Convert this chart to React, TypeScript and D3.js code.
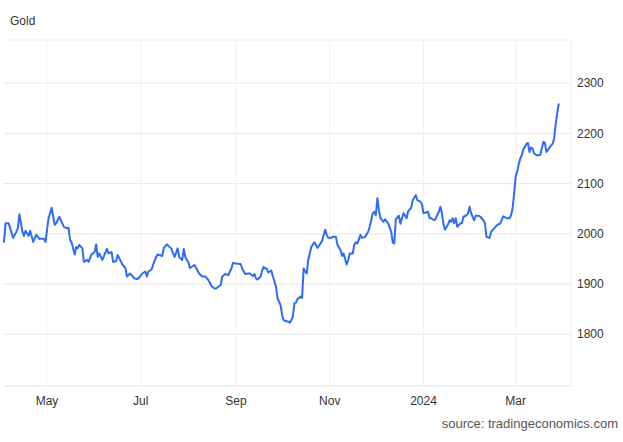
import React from "react";
import * as d3 from "d3";

const title = "Gold";
const source = "source: tradingeconomics.com";
const yTicks = [1800, 1900, 2000, 2100, 2200, 2300];

const dates: string[] = [
  // Apr 2023
  "2023-04-03","2023-04-04","2023-04-06","2023-04-09","2023-04-11","2023-04-12","2023-04-13","2023-04-15","2023-04-16","2023-04-17","2023-04-19","2023-04-20","2023-04-22","2023-04-24","2023-04-26","2023-04-29","2023-04-30",
  // May
  "2023-05-02","2023-05-04","2023-05-06","2023-05-07","2023-05-09","2023-05-10","2023-05-12","2023-05-14","2023-05-15","2023-05-16","2023-05-17","2023-05-19","2023-05-20","2023-05-21","2023-05-22","2023-05-24","2023-05-25","2023-05-27","2023-05-28","2023-05-30",
  // Jun
  "2023-06-01","2023-06-02","2023-06-03","2023-06-04","2023-06-06","2023-06-09","2023-06-10","2023-06-12","2023-06-13","2023-06-15","2023-06-16","2023-06-17","2023-06-19","2023-06-21","2023-06-22","2023-06-24","2023-06-25","2023-06-27","2023-06-29","2023-06-30",
  // Jul
  "2023-07-02","2023-07-04","2023-07-05","2023-07-06","2023-07-08","2023-07-09","2023-07-11","2023-07-12","2023-07-15","2023-07-16","2023-07-18","2023-07-19","2023-07-21","2023-07-22","2023-07-23","2023-07-25","2023-07-26","2023-07-28","2023-07-29","2023-07-30",
  // Aug
  "2023-08-01","2023-08-02","2023-08-03","2023-08-05","2023-08-08","2023-08-10","2023-08-12","2023-08-14","2023-08-16","2023-08-18","2023-08-19","2023-08-22","2023-08-23","2023-08-25","2023-08-27","2023-08-29","2023-08-30",
  // Sep
  "2023-09-01","2023-09-04","2023-09-05","2023-09-07","2023-09-09","2023-09-10","2023-09-12","2023-09-13","2023-09-14","2023-09-15","2023-09-17","2023-09-18","2023-09-19","2023-09-20","2023-09-21","2023-09-22","2023-09-24","2023-09-25","2023-09-27","2023-09-28","2023-09-30",
  // Oct
  "2023-10-01","2023-10-02","2023-10-05","2023-10-06","2023-10-08","2023-10-09","2023-10-10","2023-10-11","2023-10-13","2023-10-14","2023-10-15","2023-10-16","2023-10-17","2023-10-18","2023-10-20","2023-10-22","2023-10-23","2023-10-24","2023-10-26","2023-10-27","2023-10-29","2023-10-30","2023-10-31",
  // Nov
  "2023-11-02","2023-11-03","2023-11-05","2023-11-06","2023-11-08","2023-11-09","2023-11-10","2023-11-11","2023-11-12","2023-11-13","2023-11-14","2023-11-16","2023-11-17","2023-11-18","2023-11-19","2023-11-21","2023-11-22","2023-11-24","2023-11-26","2023-11-27","2023-11-29","2023-11-30",
  // Dec
  "2023-12-01","2023-12-02","2023-12-03","2023-12-04","2023-12-06","2023-12-07","2023-12-09","2023-12-11","2023-12-12","2023-12-13","2023-12-14","2023-12-16","2023-12-17","2023-12-18","2023-12-19","2023-12-21","2023-12-22","2023-12-24","2023-12-25","2023-12-27","2023-12-28","2023-12-30","2023-12-31",
  // Jan 2024
  "2024-01-01","2024-01-03","2024-01-04","2024-01-05","2024-01-06","2024-01-08","2024-01-09","2024-01-11","2024-01-12","2024-01-13","2024-01-14","2024-01-15","2024-01-17","2024-01-18","2024-01-19","2024-01-20","2024-01-21","2024-01-22","2024-01-23","2024-01-25","2024-01-26","2024-01-27","2024-01-29","2024-01-30","2024-01-31",
  // Feb
  "2024-02-01","2024-02-03","2024-02-04","2024-02-06","2024-02-07","2024-02-09","2024-02-10","2024-02-11","2024-02-13","2024-02-14","2024-02-16","2024-02-18","2024-02-19","2024-02-20","2024-02-22","2024-02-24","2024-02-26","2024-02-27","2024-02-28","2024-02-29",
  // Mar
  "2024-03-01","2024-03-02","2024-03-03","2024-03-04","2024-03-05","2024-03-06","2024-03-08","2024-03-09","2024-03-10","2024-03-11","2024-03-12","2024-03-13","2024-03-15","2024-03-16","2024-03-17","2024-03-19","2024-03-20","2024-03-21","2024-03-22","2024-03-23","2024-03-25","2024-03-26","2024-03-27","2024-03-28","2024-03-29",
];

const prices: number[] = [
  // Apr 2023
  1984,2021,2021,1992,2004,2011,2039,2004,1996,2006,1996,2006,1984,1998,1990,1990,1984,
  // May
  2031,2052,2018,2021,2034,2027,2014,2011,2012,1988,1983,1959,1974,1971,1978,1971,1944,1948,1944,1959,
  // Jun
  1964,1979,1954,1961,1948,1970,1961,1964,1944,1946,1958,1952,1939,1932,1915,1921,1918,1911,1910,1913,
  // Jul
  1921,1925,1915,1925,1929,1938,1954,1959,1956,1972,1979,1976,1970,1961,1954,1971,1954,1948,1970,1954,
  // Aug
  1943,1932,1934,1938,1921,1915,1915,1908,1896,1891,1891,1898,1915,1920,1918,1931,1942,
  // Sep
  1941,1940,1931,1920,1921,1921,1916,1920,1911,1909,1915,1927,1934,1931,1931,1923,1927,1915,1895,1872,1858,
  // Oct
  1838,1828,1825,1823,1835,1862,1863,1870,1875,1872,1931,1925,1921,1948,1974,1983,1978,1972,1981,1986,2008,1998,1992,
  // Nov
  1992,1994,1994,1978,1968,1956,1961,1950,1939,1948,1961,1961,1979,1983,1981,1998,1992,1994,2004,2014,2041,2044,
  // Dec
  2037,2071,2047,2031,2024,2029,2021,2004,1983,1981,2029,2036,2020,2031,2041,2031,2045,2052,2067,2077,2067,2064,2059,
  // Jan 2024
  2041,2043,2044,2031,2031,2027,2031,2044,2054,2041,2019,2008,2019,2027,2024,2031,2021,2031,2014,2021,2021,2034,2037,2041,2054,
  // Feb
  2041,2027,2036,2036,2034,2027,2021,1994,1992,2004,2011,2018,2019,2021,2035,2031,2031,2037,2051,2081,
  // Mar
  2114,2124,2139,2150,2157,2168,2179,2181,2163,2172,2170,2160,2156,2157,2157,2183,2181,2163,2167,2172,2179,2190,2217,2240,2258,
];

const xStart = "2023-04-03";
const xEnd = "2024-04-06";
const yMin = 1697;
const yMax = 2386;

const W = 623;
const H = 442;
const L = 4;
const R = 571;
const T = 40;
const B = 386;
const FONT = "'Liberation Sans', Arial, Helvetica, sans-serif";

export default function App() {
  const parse = d3.timeParse("%Y-%m-%d");
  const data = dates.map((d, i) => ({ date: parse(d) as Date, value: prices[i] }));

  const x = d3.scaleTime().domain([parse(xStart) as Date, parse(xEnd) as Date]).range([L, R]);
  const y = d3.scaleLinear().domain([yMin, yMax]).range([B, T]);

  const xTicks = x.ticks(d3.timeMonth.every(2) as d3.TimeInterval);
  const fmt = (d: Date) => (d.getMonth() === 0 ? d3.timeFormat("%Y")(d) : d3.timeFormat("%b")(d));

  const line = d3
    .line<{ date: Date; value: number }>()
    .x((d) => x(d.date))
    .y((d) => y(d.value));

  return (
    <svg
      width={W}
      height={H}
      style={{ position: "absolute", left: 0, top: 0, background: "#fff" }}
      fontFamily={FONT}
    >
      <rect x={0} y={0} width={W} height={H} fill="#fff" />
      <text x={10} y={25} fontSize={12} fill="#333">
        {title}
      </text>

      {/* vertical grid */}
      {xTicks.map((t, i) => (
        <line key={"vx" + i} x1={x(t)} x2={x(t)} y1={T} y2={B} stroke="#f0f0f0" strokeWidth={1} />
      ))}
      <line x1={R} x2={R} y1={T} y2={B} stroke="#ececec" strokeWidth={1} />

      {/* horizontal grid */}
      <line x1={L} x2={R} y1={T} y2={T} stroke="#ececec" strokeWidth={1} />
      {yTicks.map((v) => (
        <line key={"hy" + v} x1={L} x2={R} y1={y(v)} y2={y(v)} stroke="#e8e8e8" strokeWidth={1} />
      ))}
      <line x1={L} x2={R} y1={B} y2={B} stroke="#e0e0e0" strokeWidth={1} />

      {/* y labels */}
      {yTicks.map((v) => (
        <text key={"ly" + v} x={577} y={y(v)} dy="0.35em" fontSize={12} fill="#333">
          {v}
        </text>
      ))}

      {/* x labels */}
      {xTicks.map((t, i) => (
        <text key={"lx" + i} x={x(t)} y={405} textAnchor="middle" fontSize={12} fill="#333">
          {fmt(t)}
        </text>
      ))}

      <path d={line(data) ?? ""} fill="none" stroke="#2d6cf6" strokeWidth={2} strokeLinejoin="round" strokeLinecap="round" />

      <text x={618} y={428} textAnchor="end" fontSize={13} fill="#555">
        {source}
      </text>
    </svg>
  );
}
